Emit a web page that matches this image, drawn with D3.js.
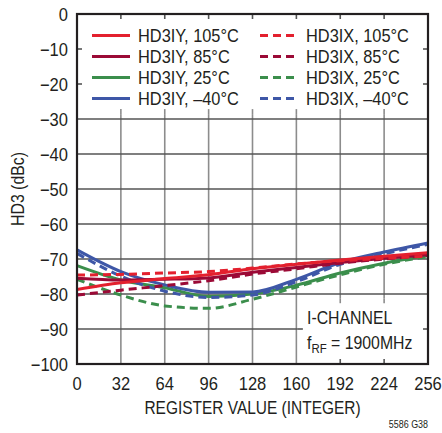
<!DOCTYPE html>
<html><head><meta charset="utf-8">
<script src="https://cdn.jsdelivr.net/npm/d3@7"></script>
<style>body{margin:0;background:#fff}svg{display:block}text{font-family:"Liberation Sans",Arial,sans-serif;fill:#231f20}</style>
</head><body><svg id="c" width="442" height="433"></svg>
<script>
const registerValues = [0, 32, 64, 96, 128, 160, 192, 224, 256];
const xTicks = [0, 32, 64, 96, 128, 160, 192, 224, 256];
const yTicks = [0, -10, -20, -30, -40, -50, -60, -70, -80, -90, -100];
const seriesNames = ["HD3IY, 105°C","HD3IY, 85°C","HD3IY, 25°C","HD3IY, –40°C","HD3IX, 105°C","HD3IX, 85°C","HD3IX, 25°C","HD3IX, –40°C"];
const seriesColors = ["#e3202e","#9b0a36","#3b8e4c","#3e57a7","#e3202e","#9b0a36","#3b8e4c","#3e57a7"];
const seriesDashed = [false,false,false,false,true,true,true,true];
const hd3iy105 = [-78.7, -76.8, -75.6, -74.5, -72.8, -71.5, -70.3, -69.2, -68.2];
const hd3iy85  = [-75.5, -76.0, -75.8, -75.4, -73.8, -72.4, -71.0, -69.8, -68.8];
const hd3iy25  = [-71.9, -76.0, -78.2, -80.7, -80.0, -77.5, -74.0, -71.2, -69.0];
const hd3iyM40 = [-67.4, -73.6, -77.4, -79.5, -79.4, -75.8, -71.0, -68.0, -65.4];
const hd3ix105 = [-74.6, -74.4, -74.0, -73.6, -72.6, -71.4, -70.5, -69.8, -69.2];
const hd3ix85  = [-80.3, -78.9, -77.6, -76.2, -74.3, -72.8, -71.2, -70.0, -69.0];
const hd3ix25  = [-75.8, -80.3, -83.4, -84.1, -81.5, -78.0, -74.5, -71.5, -69.3];
const hd3ixM40 = [-68.4, -74.9, -79.2, -81.0, -80.3, -76.5, -71.5, -68.5, -65.8];
const seriesValues = [hd3iy105, hd3iy85, hd3iy25, hd3iyM40, hd3ix105, hd3ix85, hd3ix25, hd3ixM40];

const L = 77, R = 428, T = 14, B = 364;
const svg = d3.select("#c");
const x = d3.scaleLinear().domain([0, 256]).range([L, R]);
const y = d3.scaleLinear().domain([-100, 0]).range([B, T]);

function txt(px, py, str, size, anchor, sx, rot) {
  const t = svg.append("text")
    .attr("transform", `translate(${px},${py})${rot ? " rotate(" + rot + ")" : ""} scale(${sx},1)`)
    .attr("text-anchor", anchor).attr("font-size", size);
  if (str !== null) t.text(str);
  return t;
}

// grid
const g = svg.append("g");
g.selectAll(".vg").data(xTicks.slice(1, -1)).join("line")
  .attr("x1", d => x(d)).attr("x2", d => x(d)).attr("y1", T).attr("y2", B)
  .attr("stroke", "#8c8c8c").attr("stroke-width", 1.6);
g.selectAll(".hg").data(yTicks.slice(1, -1)).join("line")
  .attr("x1", L).attr("x2", R).attr("y1", d => y(d)).attr("y2", d => y(d))
  .attr("stroke", "#555").attr("stroke-width", 1.6);

// white boxes (legend + annotation)
const legBox = {x0: L, x1: R, y0: T, y1: y(-28.6)};
const noteBox = {x0: x(160) + 1.5, x1: R, y0: y(-81.2), y1: B};
[legBox, noteBox].forEach(b => {
  svg.append("rect").attr("x", b.x0).attr("y", b.y0).attr("width", b.x1 - b.x0).attr("height", b.y1 - b.y0).attr("fill", "#fff");
});
// tick stubs into boxes
const tk = 5;
const stubs = svg.append("g").attr("stroke-width", 1.6);
xTicks.slice(1, -1).forEach(v => {
  stubs.append("line").attr("x1", x(v)).attr("x2", x(v)).attr("y1", T).attr("y2", T + tk).attr("stroke", "#555");
  stubs.append("line").attr("x1", x(v)).attr("x2", x(v)).attr("y1", legBox.y1).attr("y2", legBox.y1 - tk).attr("stroke", "#8c8c8c");
  if (x(v) > noteBox.x0) {
    stubs.append("line").attr("x1", x(v)).attr("x2", x(v)).attr("y1", noteBox.y0).attr("y2", noteBox.y0 + tk).attr("stroke", "#8c8c8c");
    stubs.append("line").attr("x1", x(v)).attr("x2", x(v)).attr("y1", B).attr("y2", B - tk).attr("stroke", "#555");
  }
});
yTicks.slice(1, -1).forEach(v => {
  if (y(v) < legBox.y1) {
    stubs.append("line").attr("x1", L).attr("x2", L + tk).attr("y1", y(v)).attr("y2", y(v)).attr("stroke", "#555");
    stubs.append("line").attr("x1", R).attr("x2", R - tk).attr("y1", y(v)).attr("y2", y(v)).attr("stroke", "#555");
  }
  if (y(v) > noteBox.y0) {
    stubs.append("line").attr("x1", noteBox.x0).attr("x2", noteBox.x0 + tk).attr("y1", y(v)).attr("y2", y(v)).attr("stroke", "#555");
    stubs.append("line").attr("x1", R).attr("x2", R - tk).attr("y1", y(v)).attr("y2", y(v)).attr("stroke", "#555");
  }
});

// data lines
const line = d3.line().x((d, i) => x(registerValues[i])).y(d => y(d)).curve(d3.curveMonotoneX);
const order = [2, 3, 6, 7, 1, 5, 0, 4];
order.forEach(i => {
  svg.append("path").attr("d", line(seriesValues[i])).attr("fill", "none")
    .attr("stroke", seriesColors[i]).attr("stroke-width", 3)
    .attr("stroke-dasharray", seriesDashed[i] ? "8,5" : null);
});

// frame
svg.append("rect").attr("x", L).attr("y", T).attr("width", R - L).attr("height", B - T)
  .attr("fill", "none").attr("stroke", "#231f20").attr("stroke-width", 2.2);

// axes labels
yTicks.forEach(d => txt(68, y(d) + 6.5, d === 0 ? "0" : "\u2212" + Math.abs(d), 18, "end", 0.92));
xTicks.forEach(d => txt(x(d), 390, String(d), 18, "middle", 0.92));
txt(x(128), 414, "REGISTER VALUE (INTEGER)", 18, "middle", 0.86);
txt(24, y(-50), "HD3 (dBc)", 18, "middle", 0.88, -90);
txt(428, 428, "5586 G38", 10.5, "end", 0.85);

// legend
const legRows = [35.5, 56.5, 77.5, 98.5];
seriesNames.forEach((name, i) => {
  const col = seriesDashed[i] ? 1 : 0;
  const row = i % 4;
  const lx = col ? 260 : 92;
  svg.append("line").attr("x1", lx).attr("x2", lx + 38).attr("y1", legRows[row]).attr("y2", legRows[row])
    .attr("stroke", seriesColors[i]).attr("stroke-width", 3)
    .attr("stroke-dasharray", seriesDashed[i] ? "8,5" : null);
  txt(lx + 46, legRows[row] + 6.5, name, 18, "start", 0.91);
});

// annotation
txt(307, 324, "I-CHANNEL", 18, "start", 0.88);
const f = txt(307, 349, null, 18, "start", 0.88);
f.append("tspan").text("f");
f.append("tspan").attr("font-size", 13).attr("dy", 4).text("RF");
f.append("tspan").attr("dy", -4).text(" = 1900MHz");
</script></body></html>
